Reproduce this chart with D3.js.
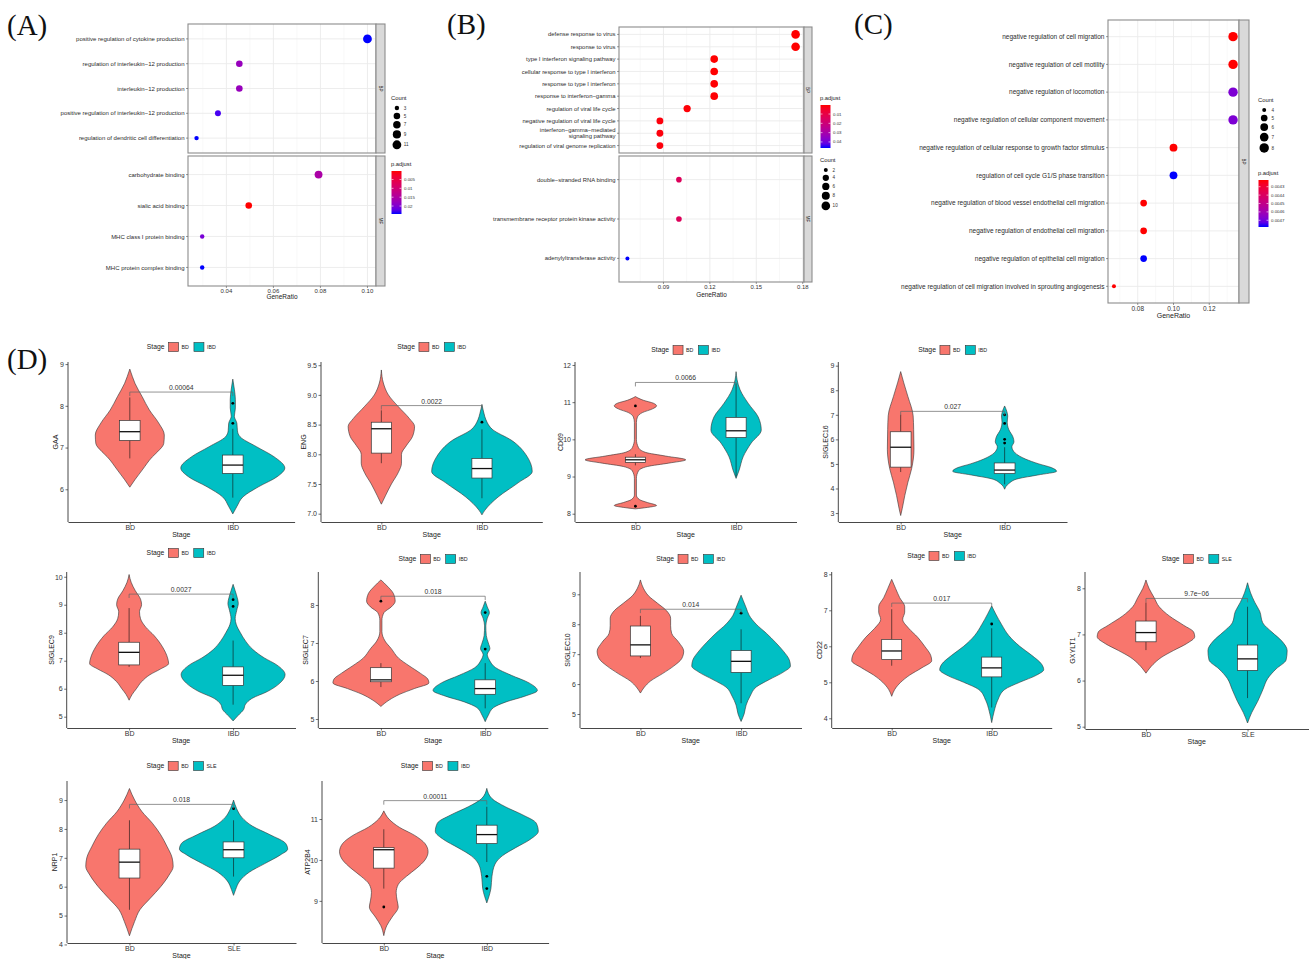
<!DOCTYPE html>
<html>
<head>
<meta charset="utf-8">
<script src="https://cdn.jsdelivr.net/npm/d3@7"></script>
<style>
  body { margin: 0; background: #fff; }
  svg { display: block; font-family: "Liberation Sans", Arial, Helvetica, sans-serif; }
</style>
</head>
<body>
<svg id="fig" width="1309" height="959" font-family="Liberation Sans, Arial, Helvetica, sans-serif"></svg>
<script>
// ---------------- data: GO enrichment (A, B, C) ----------------
const aTerms = ["positive regulation of cytokine production", "regulation of interleukin−12 production",
    "interleukin−12 production", "positive regulation of interleukin−12 production",
    "regulation of dendritic cell differentiation", "carbohydrate binding", "sialic acid binding",
    "MHC class I protein binding", "MHC protein complex binding"];
const aOnto = ["BP", "BP", "BP", "BP", "BP", "MF", "MF", "MF", "MF"];
const aRatio = [0.1, 0.0455, 0.0455, 0.0364, 0.0273, 0.0792, 0.0495, 0.0297, 0.0297];
const aCount = [11, 5, 5, 4, 3, 8, 5, 3, 3];
const aPadj = [0.0245, 0.0178, 0.0178, 0.0232, 0.0245, 0.0155, 0.0002, 0.0205, 0.0245];
const aXTicks = [0.04, 0.06, 0.08, 0.10];
const aCountBreaks = [3, 5, 7, 9, 11];
const aPadjBreaks = [0.005, 0.010, 0.015, 0.020];

const bTerms = ["defense response to virus", "response to virus", "type I interferon signaling pathway",
    "cellular response to type I interferon", "response to type I interferon", "response to interferon−gamma",
    "regulation of viral life cycle", "negative regulation of viral life cycle",
    "interferon−gamma−mediated\nsignaling pathway", "regulation of viral genome replication",
    "double−stranded RNA binding", "transmembrane receptor protein kinase activity", "adenylyltransferase activity"];
const bOnto = ["BP", "BP", "BP", "BP", "BP", "BP", "BP", "BP", "BP", "BP", "MF", "MF", "MF"];
const bRatio = [0.1754, 0.1754, 0.1228, 0.1228, 0.1228, 0.1228, 0.1053, 0.0877, 0.0877, 0.0877, 0.1, 0.1, 0.0667];
const bCount = [10, 10, 7, 7, 7, 7, 6, 5, 5, 5, 3, 3, 2];
const bPadj = [0.0003, 0.0003, 0.0004, 0.0004, 0.0005, 0.0006, 0.0008, 0.0012, 0.0012, 0.0012, 0.014, 0.014, 0.0465];
const bXTicks = [0.09, 0.12, 0.15, 0.18];
const bCountBreaks = [2, 4, 6, 8, 10];
const bPadjBreaks = [0.01, 0.02, 0.03, 0.04];

const cTerms = ["negative regulation of cell migration", "negative regulation of cell motility",
    "negative regulation of locomotion", "negative regulation of cellular component movement",
    "negative regulation of cellular response to growth factor stimulus",
    "regulation of cell cycle G1/S phase transition",
    "negative regulation of blood vessel endothelial cell migration",
    "negative regulation of endothelial cell migration", "negative regulation of epithelial cell migration",
    "negative regulation of cell migration involved in sprouting angiogenesis"];
const cOnto = ["BP", "BP", "BP", "BP", "BP", "BP", "BP", "BP", "BP", "BP"];
const cRatio = [0.1333, 0.1333, 0.1333, 0.1333, 0.1, 0.1, 0.0833, 0.0833, 0.0833, 0.0667];
const cCount = [8, 8, 8, 8, 6, 6, 5, 5, 5, 4];
const cPadj = [0.00422, 0.00422, 0.00468, 0.00468, 0.00422, 0.00478, 0.00422, 0.00422, 0.00478, 0.00422];
const cXTicks = [0.08, 0.10, 0.12];
const cCountBreaks = [4, 5, 6, 7, 8];
const cPadjBreaks = [0.0043, 0.0044, 0.0045, 0.0046, 0.0047];

// ---------------- data: violins (D) ----------------
const vGenes = ["GAA", "ENG", "CD69", "SIGLEC16", "SIGLEC9", "SIGLEC7", "SIGLEC10", "CD22", "GXYLT1", "NRP1", "ATP2B4"];
const vOther = ["IBD", "IBD", "IBD", "IBD", "IBD", "IBD", "IBD", "IBD", "SLE", "SLE", "IBD"];
const vPLabel = ["0.00064", "0.0022", "0.0066", "0.027", "0.0027", "0.018", "0.014", "0.017", "9.7e−06", "0.018", "0.00011"];
const vBracket = [8.33, 8.82, 11.53, 7.14, 9.38, 8.23, 8.5, 7.2, 7.78, 8.85, 11.45];
const vTicks = [[6, 7, 8, 9], [7, 7.5, 8, 8.5, 9, 9.5], [8, 9, 10, 11, 12], [3, 4, 5, 6, 7, 8, 9], [5, 6, 7, 8, 9, 10],
    [5, 6, 7, 8], [5, 6, 7, 8, 9], [4, 5, 6, 7, 8], [5, 6, 7, 8], [4, 5, 6, 7, 8, 9], [9, 10, 11]];
// y axis limits
const vLimits = [[5.216, 9.05], [6.86, 9.554], [7.777, 12.08], [2.636, 9.15], [4.596, 10.17], [4.763, 8.868],
    [4.532, 9.745], [3.73, 8.064], [4.95, 8.353], [4.05, 9.66], [7.97, 11.93]];

// violin outlines: [expression, half width in category steps]
const violinBD = [
    [[8.88, 0], [8.7, 0.025], [8.54, 0.05], [8.22, 0.12], [7.9, 0.19], [7.59, 0.28], [7.3, 0.335], [7.1, 0.33], [6.9, 0.27], [6.78, 0.22], [6.46, 0.12], [6.23, 0.05], [6.05, 0]],
    [[9.42, 0], [9.2, 0.02], [9.0, 0.07], [8.8, 0.17], [8.6, 0.28], [8.47, 0.33], [8.3, 0.31], [8.15, 0.25], [8.0, 0.2], [7.85, 0.2], [7.7, 0.17], [7.5, 0.1], [7.3, 0.04], [7.16, 0]],
    [[11.15, 0], [11.05, 0.08], [10.97, 0.18], [10.9, 0.21], [10.82, 0.17], [10.72, 0.07], [10.6, 0.02], [10.45, 0.01], [10.0, 0.01], [9.78, 0.03], [9.65, 0.1], [9.55, 0.3], [9.45, 0.5], [9.36, 0.33], [9.27, 0.12], [9.15, 0.03], [8.95, 0.01], [8.5, 0.01], [8.38, 0.04], [8.3, 0.12], [8.22, 0.21], [8.17, 0.12], [8.13, 0]],
    [[8.76, 0], [8.3, 0.03], [7.74, 0.07], [6.96, 0.12], [6.41, 0.125], [5.6, 0.128], [4.8, 0.105], [4.26, 0.07], [3.72, 0.04], [3.18, 0.015], [2.9, 0]],
    [[10.08, 0], [9.8, 0.02], [9.5, 0.06], [9.2, 0.11], [9.0, 0.12], [8.75, 0.1], [8.5, 0.11], [8.2, 0.16], [7.9, 0.24], [7.5, 0.32], [7.1, 0.37], [6.9, 0.38], [6.7, 0.3], [6.5, 0.2], [6.25, 0.12], [6.0, 0.07], [5.8, 0.03], [5.59, 0]],
    [[8.66, 0], [8.5, 0.06], [8.3, 0.12], [8.1, 0.137], [7.95, 0.1], [7.8, 0.03], [7.6, 0.01], [7.3, 0.01], [7.05, 0.04], [6.85, 0.1], [6.6, 0.17], [6.4, 0.27], [6.2, 0.38], [6.05, 0.45], [5.95, 0.46], [5.8, 0.32], [5.65, 0.18], [5.5, 0.08], [5.33, 0]],
    [[9.48, 0], [9.2, 0.03], [8.95, 0.08], [8.7, 0.17], [8.45, 0.26], [8.2, 0.3], [7.95, 0.3], [7.7, 0.31], [7.4, 0.38], [7.1, 0.43], [6.85, 0.41], [6.6, 0.33], [6.35, 0.22], [6.1, 0.1], [5.9, 0.04], [5.7, 0]],
    [[7.86, 0], [7.6, 0.04], [7.35, 0.08], [7.1, 0.13], [6.95, 0.13], [6.75, 0.11], [6.5, 0.17], [6.25, 0.26], [6.0, 0.33], [5.75, 0.39], [5.6, 0.4], [5.4, 0.3], [5.2, 0.18], [5.0, 0.09], [4.8, 0.03], [4.61, 0]],
    [[8.18, 0], [8.0, 0.03], [7.8, 0.08], [7.6, 0.13], [7.4, 0.23], [7.2, 0.37], [7.05, 0.47], [6.95, 0.48], [6.8, 0.4], [6.65, 0.27], [6.5, 0.15], [6.35, 0.07], [6.16, 0]],
    [[9.4, 0], [9.0, 0.05], [8.6, 0.12], [8.2, 0.22], [7.8, 0.3], [7.4, 0.36], [7.0, 0.41], [6.7, 0.42], [6.4, 0.38], [6.0, 0.3], [5.6, 0.2], [5.2, 0.1], [4.8, 0.05], [4.3, 0]],
    [[11.2, 0], [11.0, 0.05], [10.8, 0.15], [10.6, 0.3], [10.4, 0.4], [10.2, 0.43], [10.0, 0.4], [9.8, 0.32], [9.6, 0.22], [9.4, 0.14], [9.2, 0.12], [9.0, 0.13], [8.85, 0.14], [8.6, 0.08], [8.4, 0.03], [8.15, 0]]
];
const violinOther = [
    [[8.64, 0], [8.4, 0.015], [8.15, 0.025], [7.95, 0.025], [7.75, 0.015], [7.58, 0.04], [7.4, 0.045], [7.26, 0.07], [7.02, 0.23], [6.78, 0.4], [6.51, 0.505], [6.3, 0.43], [6.06, 0.25], [5.82, 0.1], [5.59, 0.04], [5.41, 0]],
    [[8.84, 0], [8.69, 0.02], [8.58, 0.04], [8.41, 0.11], [8.24, 0.29], [7.96, 0.45], [7.71, 0.5], [7.52, 0.36], [7.28, 0.16], [7.06, 0.03], [6.98, 0]],
    [[11.82, 0], [11.6, 0.01], [11.33, 0.04], [10.97, 0.12], [10.6, 0.22], [10.25, 0.25], [9.9, 0.15], [9.53, 0.07], [9.17, 0.03], [8.95, 0]],
    [[7.36, 0], [7.15, 0.02], [6.95, 0.03], [6.7, 0.025], [6.4, 0.04], [6.1, 0.08], [5.9, 0.09], [5.7, 0.07], [5.45, 0.1], [5.2, 0.2], [5.0, 0.33], [4.85, 0.45], [4.7, 0.5], [4.55, 0.32], [4.4, 0.13], [4.2, 0.04], [3.97, 0]],
    [[9.73, 0], [9.5, 0.02], [9.25, 0.04], [9.05, 0.05], [8.8, 0.035], [8.5, 0.02], [8.3, 0.03], [8.0, 0.07], [7.7, 0.12], [7.4, 0.19], [7.1, 0.3], [6.85, 0.42], [6.5, 0.5], [6.2, 0.45], [5.9, 0.33], [5.65, 0.18], [5.45, 0.12], [5.25, 0.1], [5.05, 0.05], [4.85, 0]],
    [[8.1, 0], [7.95, 0.02], [7.8, 0.04], [7.65, 0.02], [7.45, 0.006], [7.2, 0.01], [7.0, 0.03], [6.85, 0.045], [6.7, 0.02], [6.55, 0.04], [6.35, 0.1], [6.15, 0.25], [5.95, 0.42], [5.75, 0.5], [5.6, 0.38], [5.45, 0.2], [5.3, 0.08], [5.1, 0.03], [4.93, 0]],
    [[8.97, 0], [8.8, 0.02], [8.55, 0.05], [8.3, 0.08], [8.0, 0.15], [7.7, 0.25], [7.4, 0.34], [7.1, 0.42], [6.8, 0.48], [6.6, 0.49], [6.4, 0.42], [6.15, 0.28], [5.9, 0.15], [5.6, 0.09], [5.3, 0.05], [5.0, 0.03], [4.75, 0]],
    [[7.12, 0], [6.9, 0.04], [6.6, 0.1], [6.3, 0.17], [6.0, 0.28], [5.75, 0.4], [5.5, 0.5], [5.35, 0.52], [5.2, 0.45], [5.0, 0.28], [4.8, 0.13], [4.5, 0.06], [4.2, 0.025], [3.88, 0]],
    [[8.12, 0], [7.9, 0.03], [7.7, 0.07], [7.5, 0.12], [7.25, 0.15], [7.05, 0.24], [6.85, 0.34], [6.65, 0.39], [6.45, 0.38], [6.25, 0.28], [6.05, 0.2], [5.8, 0.15], [5.55, 0.1], [5.3, 0.04], [5.08, 0]],
    [[9.0, 0], [8.7, 0.03], [8.4, 0.08], [8.1, 0.18], [7.8, 0.35], [7.5, 0.5], [7.3, 0.52], [7.1, 0.45], [6.8, 0.3], [6.5, 0.15], [6.2, 0.06], [5.9, 0.02], [5.7, 0]],
    [[11.75, 0], [11.5, 0.05], [11.3, 0.18], [11.1, 0.35], [10.9, 0.48], [10.7, 0.5], [10.5, 0.42], [10.3, 0.28], [10.1, 0.15], [9.9, 0.08], [9.6, 0.05], [9.3, 0.04], [9.1, 0.02], [8.95, 0]]
];
// box stats: [lower whisker, q1, median, q3, upper whisker]
const boxBD = [[6.74, 7.17, 7.38, 7.65, 8.2], [7.85, 8.02, 8.43, 8.54, 8.74], [9.3, 9.38, 9.45, 9.52, 9.6],
    [4.67, 4.87, 5.68, 6.31, 7.0], [6.78, 6.85, 7.3, 7.66, 8.88], [5.84, 5.98, 6.03, 6.35, 6.47],
    [6.87, 6.94, 7.31, 7.94, 8.28], [5.46, 5.63, 5.87, 6.19, 7.03], [6.66, 6.84, 7.04, 7.29, 7.69],
    [5.2, 6.3, 6.85, 7.3, 8.3], [9.3, 9.8, 10.25, 10.3, 10.75]];
const boxOther = [[5.8, 6.38, 6.58, 6.82, 7.45], [7.26, 7.6, 7.76, 7.93, 8.42], [9.0, 10.05, 10.23, 10.59, 11.5],
    [4.17, 4.61, 4.75, 5.04, 5.68], [5.43, 6.12, 6.48, 6.78, 7.72], [5.28, 5.65, 5.8, 6.03, 6.47],
    [5.36, 6.39, 6.76, 7.12, 7.83], [4.3, 5.15, 5.4, 5.7, 6.5], [5.62, 6.22, 6.47, 6.77, 7.6],
    [6.35, 7.0, 7.28, 7.55, 8.3], [9.95, 10.4, 10.62, 10.85, 11.3]];
const outBD = [[], [], [10.9, 8.2], [], [], [8.1], [], [], [], [], [8.85]];
const outOther = [[7.58, 8.06], [8.54], [], [7.0, 6.65, 6.0, 5.85], [9.18, 8.94], [7.8, 6.84], [8.37], [6.62], [], [8.7], [9.6, 9.3]];

// ---------------- layout ----------------
const svg = d3.select("#fig");
const sans = "Liberation Sans, Arial, Helvetica, sans-serif";
const serif = "Liberation Serif, Times New Roman, serif";
const fillBD = "#F8766D", fillOther = "#00BFC4";
const lab = d3.interpolateLab("#FF0000", "#0000FF");

svg.append("rect").attr("width", 1309).attr("height", 959).attr("fill", "#fff");

//panel letters
svg.selectAll("text.letter")
    .data([["(A)", 7, 35], ["(B)", 447, 34], ["(C)", 854, 34], ["(D)", 7, 369]])
    .join("text")
    .attr("class", "letter")
    .attr("x", d => d[1]).attr("y", d => d[2])
    .attr("font-family", serif).attr("font-size", 29).attr("fill", "#111")
    .text(d => d[0]);


function dotPlot(o) {
    let g = svg.append("g").attr("font-family", sans);
    let ext = d3.extent(o.ratio);
    let pad = (ext[1] - ext[0]) * 0.05;
    let x = d3.scaleLinear().domain([ext[0] - pad, ext[1] + pad]).range([o.x0, o.x1]);
    let cNorm = d3.scaleLinear().domain(d3.extent(o.count));
    let rad = d3.scaleSqrt().domain([0, 1]).range(o.rRange);
    let r = c => rad(cNorm(c));
    let col = d3.scaleSequential(lab).domain(d3.extent(o.padj));

    let stp = o.xTicks[1] - o.xTicks[0];
    let minor = d3.range(-1, o.xTicks.length).map(i => o.xTicks[0] + stp * (i + 0.5))
        .filter(v => v > x.domain()[0] && v < x.domain()[1]);
    let major = o.xTicks.filter(v => v > x.domain()[0] && v < x.domain()[1]);

    o.facets.forEach(f => {
        let rows = o.terms.map((t, i) => ({ t: t, i: i })).filter(d => o.onto[d.i] === f.name);
        let y = d3.scalePoint().domain(rows.map(d => d.t)).range([f.y0, f.y1]).padding(0.6);

        g.append("rect").attr("x", o.x0).attr("y", f.y0)
            .attr("width", o.x1 - o.x0).attr("height", f.y1 - f.y0).attr("fill", "#fff");

        g.selectAll(null).data(minor).join("line")
            .attr("x1", d => x(d)).attr("x2", d => x(d)).attr("y1", f.y0).attr("y2", f.y1)
            .attr("stroke", "#F4F4F4").attr("stroke-width", 0.6);
        g.selectAll(null).data(major).join("line")
            .attr("x1", d => x(d)).attr("x2", d => x(d)).attr("y1", f.y0).attr("y2", f.y1)
            .attr("stroke", "#EBEBEB").attr("stroke-width", 0.9);
        g.selectAll(null).data(rows).join("line")
            .attr("x1", o.x0).attr("x2", o.x1).attr("y1", d => y(d.t)).attr("y2", d => y(d.t))
            .attr("stroke", "#EBEBEB").attr("stroke-width", 0.9);

        g.selectAll(null).data(rows).join("circle")
            .attr("cx", d => x(o.ratio[d.i])).attr("cy", d => y(d.t))
            .attr("r", d => r(o.count[d.i]))
            .attr("fill", d => col(o.padj[d.i]));

        g.append("rect").attr("x", o.x0).attr("y", f.y0)
            .attr("width", o.x1 - o.x0).attr("height", f.y1 - f.y0)
            .attr("fill", "none").attr("stroke", "#8C8C8C").attr("stroke-width", 1.1);

        //strip
        g.append("rect").attr("x", o.x1).attr("y", f.y0)
            .attr("width", o.stripW).attr("height", f.y1 - f.y0)
            .attr("fill", "#D9D9D9").attr("stroke", "#8C8C8C").attr("stroke-width", 1.1);
        g.append("text")
            .attr("transform", `translate(${o.x1 + o.stripW / 2},${(f.y0 + f.y1) / 2}) rotate(90)`)
            .attr("text-anchor", "middle").attr("dy", "0.35em")
            .attr("font-size", 4.5).attr("fill", "#1a1a1a").text(f.name);

        //y ticks + labels
        g.selectAll(null).data(rows).join("line")
            .attr("x1", o.x0 - 2).attr("x2", o.x0).attr("y1", d => y(d.t)).attr("y2", d => y(d.t))
            .attr("stroke", "#555").attr("stroke-width", 0.6);
        let lbl = g.selectAll(null).data(rows).join("text")
            .attr("text-anchor", "end").attr("font-size", o.fs).attr("fill", "#2b2b2b")
            .attr("transform", d => `translate(${o.x0 - 3.5},${y(d.t)})`);
        lbl.each(function(d) {
            let parts = d.t.split("\n");
            let lh = o.fs * 1.05;
            parts.forEach((p, k) => {
                d3.select(this).append("tspan").attr("x", 0)
                    .attr("y", (k - (parts.length - 1) / 2) * lh)
                    .attr("dy", "0.35em").text(p);
            });
        });
    });

    //x axis
    let yb = o.facets[o.facets.length - 1].y1;
    g.selectAll(null).data(major).join("line")
        .attr("x1", d => x(d)).attr("x2", d => x(d)).attr("y1", yb).attr("y2", yb + 2)
        .attr("stroke", "#555").attr("stroke-width", 0.6);
    g.selectAll(null).data(major).join("text")
        .attr("x", d => x(d)).attr("y", yb + o.tickDy)
        .attr("text-anchor", "middle").attr("font-size", o.fs).attr("fill", "#333")
        .text(d => d3.format(".2f")(d));
    g.append("text").attr("x", (o.x0 + o.x1) / 2).attr("y", yb + o.titleDy)
        .attr("text-anchor", "middle").attr("font-size", o.fs + 0.5).attr("fill", "#222")
        .text("GeneRatio");

    //legends
    sizeLegend(o.countLeg, o.countBreaks, r, o.rRange[1]);
    colorLegend(o.padjLeg, o.padjBreaks, col);
}

function sizeLegend(p, breaks, r, rmax) {
    let g = svg.append("g").attr("font-family", sans);
    g.append("text").attr("x", p.x).attr("y", p.y)
        .attr("font-size", 5.8).attr("fill", "#222").text("Count");
    let cy = p.y + 8;
    breaks.forEach((b, k) => {
        let h = Math.max(7.5, 2 * r(b) + 1.8);
        if (k > 0) cy += h / 2;
        g.append("circle").attr("cx", p.x + rmax + 1.5).attr("cy", cy).attr("r", r(b)).attr("fill", "#000");
        g.append("text").attr("x", p.x + 2 * rmax + 4).attr("y", cy).attr("dy", "0.35em")
            .attr("font-size", 4.6).attr("fill", "#333").text(b);
        cy += h / 2;
    });
}

let gradId = 0;
function colorLegend(p, breaks, col) {
    let g = svg.append("g").attr("font-family", sans);
    let id = "grad" + (gradId++);
    let grad = svg.append("defs").append("linearGradient").attr("id", id)
        .attr("x1", 0).attr("y1", 0).attr("x2", 0).attr("y2", 1);
    d3.range(0, 1.0001, 0.1).forEach(t => {
        grad.append("stop").attr("offset", t).attr("stop-color", lab(t));
    });
    g.append("text").attr("x", p.x).attr("y", p.y)
        .attr("font-size", 5.8).attr("fill", "#222").text("p.adjust");
    let by = p.y + 5, bw = 10;
    g.append("rect").attr("x", p.x + 0.5).attr("y", by).attr("width", bw).attr("height", p.h)
        .attr("fill", `url(#${id})`);
    let ys = d3.scaleLinear().domain(col.domain()).range([by, by + p.h]);
    breaks.forEach(b => {
        g.append("line").attr("x1", p.x + 0.5).attr("x2", p.x + 2.5).attr("y1", ys(b)).attr("y2", ys(b))
            .attr("stroke", "#fff").attr("stroke-width", 0.6);
        g.append("line").attr("x1", p.x + bw - 1.5).attr("x2", p.x + bw + 0.5).attr("y1", ys(b)).attr("y2", ys(b))
            .attr("stroke", "#fff").attr("stroke-width", 0.6);
        g.append("text").attr("x", p.x + bw + 3).attr("y", ys(b)).attr("dy", "0.35em")
            .attr("font-size", 4.4).attr("fill", "#333").text(b);
    });
}

dotPlot({
    terms: aTerms, onto: aOnto, ratio: aRatio, count: aCount, padj: aPadj,
    xTicks: aXTicks, countBreaks: aCountBreaks, padjBreaks: aPadjBreaks,
    x0: 188, x1: 376, stripW: 9, fs: 6, tickDy: 7, titleDy: 12.5,
    facets: [{ name: "BP", y0: 24, y1: 153 }, { name: "MF", y0: 156, y1: 286 }],
    rRange: [2.2, 4.4],
    countLeg: { x: 391, y: 100 }, padjLeg: { x: 391, y: 166, h: 43 }
});

dotPlot({
    terms: bTerms, onto: bOnto, ratio: bRatio, count: bCount, padj: bPadj,
    xTicks: bXTicks, countBreaks: bCountBreaks, padjBreaks: bPadjBreaks,
    x0: 619, x1: 804, stripW: 8, fs: 5.9, tickDy: 6.5, titleDy: 14.5,
    facets: [{ name: "BP", y0: 27, y1: 153 }, { name: "MF", y0: 156, y1: 282 }],
    rRange: [2.0, 4.3],
    countLeg: { x: 820, y: 162 }, padjLeg: { x: 820, y: 100, h: 43 }
});

dotPlot({
    terms: cTerms, onto: cOnto, ratio: cRatio, count: cCount, padj: cPadj,
    xTicks: cXTicks, countBreaks: cCountBreaks, padjBreaks: cPadjBreaks,
    x0: 1108, x1: 1239, stripW: 10, fs: 6.5, tickDy: 7.5, titleDy: 15,
    facets: [{ name: "BP", y0: 20, y1: 303 }],
    rRange: [2.0, 4.7],
    countLeg: { x: 1258, y: 102 }, padjLeg: { x: 1258, y: 175, h: 47 }
});


// violin panel positions (axis line x, x axis right end, panel top/bottom, legend row)
const vLayout = [
    { x0: 68, x1: 294.6, yt: 362, yb: 522, leg: 347 },
    { x0: 321, x1: 542.3, yt: 362, yb: 522, leg: 347 },
    { x0: 575, x1: 796.5, yt: 362, yb: 522, leg: 350 },
    { x0: 838.3, x1: 1067, yt: 362, yb: 522, leg: 350 },
    { x0: 66.7, x1: 295.5, yt: 572, yb: 728, leg: 553 },
    { x0: 318.3, x1: 547.8, yt: 572, yb: 728, leg: 559 },
    { x0: 580, x1: 801.5, yt: 572, yb: 728, leg: 559 },
    { x0: 831.7, x1: 1051.7, yt: 572, yb: 728, leg: 556 },
    { x0: 1085, x1: 1308.5, yt: 572, yb: 729, leg: 559 },
    { x0: 67, x1: 296, yt: 781, yb: 943, leg: 766 },
    { x0: 322, x1: 548.6, yt: 781, yb: 943, leg: 766 }
];

function violinPanel(i) {
    let L = vLayout[i];
    let g = svg.append("g").attr("font-family", sans);
    let groups = ["BD", vOther[i]];
    let x = d3.scalePoint().domain(groups).range([L.x0, L.x1]).padding(0.6);
    let step = x.step();
    let y = d3.scaleLinear().domain(vLimits[i]).range([L.yb, L.yt]);

    let sets = [
        { grp: "BD", shape: violinBD[i], box: boxBD[i], out: outBD[i], fill: fillBD },
        { grp: vOther[i], shape: violinOther[i], box: boxOther[i], out: outOther[i], fill: fillOther }
    ];

    sets.forEach(s => {
        let cx = x(s.grp);
        let area = d3.area()
            .curve(d3.curveMonotoneY)
            .y(d => y(d[0]))
            .x0(d => cx - d[1] * step)
            .x1(d => cx + d[1] * step);
        g.append("path").attr("d", area(s.shape))
            .attr("fill", s.fill).attr("stroke", "#333").attr("stroke-width", 0.6)
            .attr("stroke-linejoin", "round");

        let bw = step * 0.2;
        let b = s.box;
        g.append("line").attr("x1", cx).attr("x2", cx).attr("y1", y(b[0])).attr("y2", y(b[1]))
            .attr("stroke", "#111").attr("stroke-width", 0.6);
        g.append("line").attr("x1", cx).attr("x2", cx).attr("y1", y(b[3])).attr("y2", y(b[4]))
            .attr("stroke", "#111").attr("stroke-width", 0.6);
        g.append("rect").attr("x", cx - bw / 2).attr("y", y(b[3]))
            .attr("width", bw).attr("height", y(b[1]) - y(b[3]))
            .attr("fill", "#fff").attr("stroke", "#333").attr("stroke-width", 0.7);
        g.append("line").attr("x1", cx - bw / 2).attr("x2", cx + bw / 2).attr("y1", y(b[2])).attr("y2", y(b[2]))
            .attr("stroke", "#111").attr("stroke-width", 1.3);
        g.selectAll(null).data(s.out).join("circle")
            .attr("cx", cx).attr("cy", d => y(d)).attr("r", 1.4).attr("fill", "#000");
    });

    //p value bracket
    let tip = 0.025 * (vLimits[i][1] - vLimits[i][0]);
    let xa = x("BD"), xb = x(vOther[i]), yv = vBracket[i];
    g.append("path")
        .attr("d", d3.line()([[xa, y(yv - tip)], [xa, y(yv)], [xb, y(yv)], [xb, y(yv - tip)]]))
        .attr("fill", "none").attr("stroke", "#666").attr("stroke-width", 0.7);
    g.append("text").attr("x", (xa + xb) / 2).attr("y", y(yv) - 2)
        .attr("text-anchor", "middle").attr("font-size", 6.8).attr("fill", "#333").text(vPLabel[i]);

    //axes
    let ticks = vTicks[i];
    let fmt = ticks.some(t => t % 1 !== 0) ? d3.format(".1f") : d3.format("d");
    let ya = g.append("g").attr("transform", `translate(${L.x0},0)`)
        .call(d3.axisLeft(y).tickValues(ticks).tickFormat(fmt).tickSize(2.5).tickPadding(1.5).tickSizeOuter(0));
    let xaG = g.append("g").attr("transform", `translate(0,${L.yb})`)
        .call(d3.axisBottom(x).tickSize(2.5).tickPadding(1).tickSizeOuter(0));
    [ya, xaG].forEach(a => {
        a.attr("font-family", sans).attr("font-size", 7);
        a.selectAll("text").attr("fill", "#333");
        a.select(".domain").attr("stroke", "#333").attr("stroke-width", 0.9);
        a.selectAll(".tick line").attr("stroke", "#333").attr("stroke-width", 0.7);
    });
    ya.select(".domain").attr("d", `M0,${L.yt}V${L.yb}`);

    let maxChars = d3.max(ticks, t => fmt(t).length);
    g.append("text")
        .attr("transform", `translate(${L.x0 - (10 + 2.4 * maxChars)},${(L.yt + L.yb) / 2}) rotate(-90)`)
        .attr("text-anchor", "middle").attr("dy", "0.35em")
        .attr("font-size", 7).attr("fill", "#222").text(vGenes[i]);
    g.append("text").attr("x", (L.x0 + L.x1) / 2).attr("y", L.yb + 15)
        .attr("text-anchor", "middle").attr("font-size", 7).attr("fill", "#222").text("Stage");

    //legend on top
    let lg = g.append("g");
    let cur = 0;
    let t0 = lg.append("text").attr("x", cur).attr("y", 0).attr("dy", "0.35em")
        .attr("font-size", 6.8).attr("fill", "#222").text("Stage");
    cur += t0.node().getComputedTextLength() + 4;
    sets.forEach(s => {
        lg.append("rect").attr("x", cur).attr("y", -4.5).attr("width", 10).attr("height", 9)
            .attr("fill", s.fill).attr("stroke", "#333").attr("stroke-width", 0.6);
        cur += 13;
        let t = lg.append("text").attr("x", cur).attr("y", 0).attr("dy", "0.35em")
            .attr("font-size", 5.3).attr("fill", "#222").text(s.grp);
        cur += t.node().getComputedTextLength() + 5;
    });
    cur -= 5;
    lg.attr("transform", `translate(${(L.x0 + L.x1) / 2 - cur / 2},${L.leg})`);
}

vGenes.forEach((gene, i) => violinPanel(i));
</script>
</body>
</html>
